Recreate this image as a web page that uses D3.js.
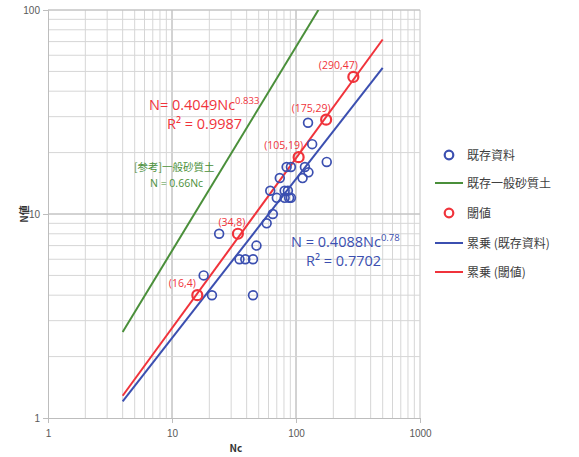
<!DOCTYPE html>
<html><head><meta charset="utf-8">
<script src="https://cdn.jsdelivr.net/npm/d3@7"></script>
<style>
body{margin:0;background:#fff;}
text{font-family:"Noto Sans CJK JP","Noto Sans",sans-serif;}
</style></head>
<body><svg id="c" width="579" height="457"></svg>
<script>
// ---- data ----
const existNc = [125,135,177,84,91,118,126,113,74,62,81,86,70,81,88,91,65,58,24,48,35,39,45,18,21,45];
const existN  = [28,22,18,17,17,17,16,15,15,13,13,13,12,12,12,12,10,9,8,7,6,6,6,5,4,4];
const threshNc = [16,34,105,175,290];
const threshN  = [4,8,19,29,47];
const threshLabels = ["(16,4)","(34,8)","(105,19)","(175,29)","(290,47)"];
const sandNc = [4,151.5];           // 一般砂質土 N=0.66Nc
const sandN  = [2.64,100];
const fitThreshNc = [4,500];        // 累乗 (閾値)
const fitThreshN  = [1.285,71.7];
const fitExistNc = [4,500];         // 累乗 (既存資料)
const fitExistN  = [1.205,52.1];
const xTicks = [1,10,100,1000];
const yTicks = [1,10,100];
const legendLabels = ["既存資料","既存一般砂質土","閾値","累乗 (既存資料)","累乗 (閾値)"];

const blue="#3b4fb0", red="#f0333b", green="#4a8f3a";
const svg=d3.select("#c");
const L=48,R=420,T=10,B=418;
const x=d3.scaleLog().domain([1,1000]).range([L,R]);
const y=d3.scaleLog().domain([1,100]).range([B,T]);

// grid
const minor=[];
for(let d=1;d<1000;d*=10) for(let k=1;k<=10;k++) minor.push(d*k);
const minorY=minor.filter(v=>v<=100);
const g=svg.append("g");
g.selectAll(".gx").data(minor.filter(v=>v>1)).enter().append("line")
 .attr("x1",d=>x(d)).attr("x2",d=>x(d)).attr("y1",T).attr("y2",B)
 .attr("stroke",d=>xTicks.includes(d)?"#c4c4c4":"#d6d6d6").attr("stroke-width",1);
g.selectAll(".gy").data(minorY.filter(v=>v>1)).enter().append("line")
 .attr("y1",d=>y(d)).attr("y2",d=>y(d)).attr("x1",L).attr("x2",R)
 .attr("stroke",d=>yTicks.includes(d)?"#c4c4c4":"#d6d6d6").attr("stroke-width",1);

// axes
const xa=svg.append("g").attr("transform",`translate(0,${B})`)
 .call(d3.axisBottom(x).tickValues(xTicks).tickFormat(d3.format("d")).tickSize(5));
const ya=svg.append("g").attr("transform",`translate(${L},0)`)
 .call(d3.axisLeft(y).tickValues(yTicks).tickFormat(d3.format("d")).tickSize(5));
[xa,ya].forEach(a=>{
  a.select(".domain").attr("stroke","#bdbdbd");
  a.selectAll(".tick line").attr("stroke","#bdbdbd");
  a.selectAll(".tick text").attr("fill","#595959").attr("font-size",10)
   .style("font-family","'Liberation Sans',Arial,sans-serif");
});
xa.selectAll(".tick text").attr("dy","1.1em");
svg.append("text").attr("x",236).attr("y",452).attr("text-anchor","middle")
 .attr("font-size",10).attr("font-weight","bold").attr("fill","#333").text("Nc");
svg.append("text").attr("transform","translate(28,214) rotate(-90)").attr("text-anchor","middle")
 .attr("font-size",10).attr("font-weight","bold").attr("fill","#333").text("N値");

// lines
const line=d3.line().x(d=>x(d[0])).y(d=>y(d[1]));
svg.append("clipPath").attr("id","pc").append("rect").attr("x",L).attr("y",T).attr("width",R-L).attr("height",B-T);
const lg=svg.append("g").attr("clip-path","url(#pc)");
lg.append("path").datum(d3.zip(sandNc,sandN)).attr("d",line).attr("stroke",green).attr("stroke-width",2).attr("fill","none");
lg.append("path").datum(d3.zip(fitExistNc,fitExistN)).attr("d",line).attr("stroke",blue).attr("stroke-width",2).attr("fill","none");
lg.append("path").datum(d3.zip(fitThreshNc,fitThreshN)).attr("d",line).attr("stroke",red).attr("stroke-width",2).attr("fill","none");

// points
svg.append("g").selectAll("circle").data(d3.zip(existNc,existN)).enter().append("circle")
 .attr("cx",d=>x(d[0])).attr("cy",d=>y(d[1])).attr("r",4.4)
 .attr("fill","none").attr("stroke",blue).attr("stroke-width",1.7);
svg.append("g").selectAll("circle").data(d3.zip(threshNc,threshN)).enter().append("circle")
 .attr("cx",d=>x(d[0])).attr("cy",d=>y(d[1])).attr("r",5)
 .attr("fill","none").attr("stroke",red).attr("stroke-width",2.2);
svg.append("g").selectAll("text").data(d3.zip(threshNc,threshN,threshLabels)).enter().append("text")
 .attr("x",(d,i)=>x(d[0])+(i===1?-6:-15)).attr("y",d=>y(d[1])-8)
 .attr("text-anchor","middle").attr("font-size",10.5).attr("fill",red)
 .style("font-family","'Open Sans',sans-serif").text(d=>d[2]);

// equations
function eq(xp,yp,base,sup,r2,col){
  const t=svg.append("text").attr("x",xp).attr("y",yp).attr("fill",col).attr("font-size",14.5)
   .attr("font-weight",500).style("font-family","'Open Sans',sans-serif");
  t.append("tspan").text(base);
  t.append("tspan").attr("dy",-6).attr("font-size",9.5).text(sup);
  svg.append("text").attr("x",xp+ (col===red?18:15)).attr("y",yp+19).attr("fill",col).attr("font-size",14.5)
   .attr("font-weight",500).style("font-family","'Open Sans',sans-serif").text(r2);
}
eq(149,110,"N= 0.4049Nc","0.833","R² = 0.9987",red);
eq(291,247,"N = 0.4088Nc","0.78","R² = 0.7702",blue);
svg.append("text").attr("x",134).attr("y",171).attr("fill",green).attr("font-size",10.5).text("[参考]一般砂質土");
svg.append("text").attr("x",150).attr("y",187).attr("fill",green).attr("font-size",10.5)
 .style("font-family","'Open Sans',sans-serif").text("N = 0.66Nc");

// legend
const types=["c","l","c","l","l"];
const cols=[blue,green,red,blue,red];
const ly=[155,183,213,243,272];
const leg=svg.append("g");
legendLabels.forEach((lab,i)=>{
  if(types[i]==="c") leg.append("circle").attr("cx",449).attr("cy",ly[i]).attr("r",4.3)
     .attr("fill","none").attr("stroke",cols[i]).attr("stroke-width",2.2);
  else leg.append("line").attr("x1",435).attr("x2",463).attr("y1",ly[i]).attr("y2",ly[i])
     .attr("stroke",cols[i]).attr("stroke-width",2);
  leg.append("text").attr("x",467).attr("y",ly[i]+4.5).attr("font-size",12).attr("fill","#404040").text(lab);
});
</script></body></html>
